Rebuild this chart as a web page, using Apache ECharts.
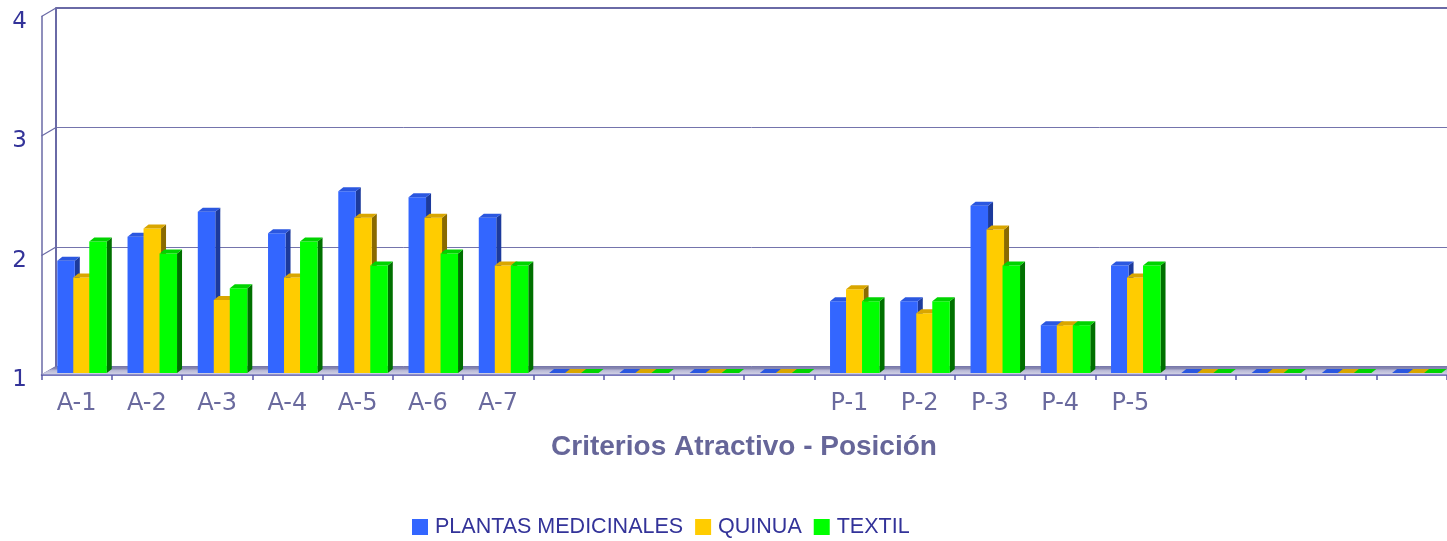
<!DOCTYPE html>
<html>
<head>
<meta charset="utf-8">
<script src="https://cdn.jsdelivr.net/npm/echarts@6/dist/echarts.min.js"></script>
<style>html,body{margin:0;padding:0;background:#fff}#c{width:1447px;height:541px}</style>
</head>
<body>
<div id="c"></div>
<script>
const categories = ['A-1','A-2','A-3','A-4','A-5','A-6','A-7','','','','','P-1','P-2','P-3','P-4','P-5','','','',''];
const plantas = [1.94,2.14,2.35,2.17,2.52,2.47,2.3,1,1,1,1,1.6,1.6,2.4,1.4,1.9,1,1,1,1];
const quinua  = [1.8,2.21,1.61,1.8,2.3,2.3,1.9,1,1,1,1,1.7,1.5,2.2,1.4,1.8,1,1,1,1];
const textil  = [2.1,2.0,1.71,2.1,1.9,2.0,1.9,1,1,1,1,1.6,1.6,1.9,1.4,1.9,1,1,1,1];
const yTicks = [1,2,3,4];
const seriesNames = ['PLANTAS MEDICINALES','QUINUA','TEXTIL'];

const DX = 14.5, DY = -8.5;   // depth of the walls
const BDX = 5, BDY = -4;      // depth of each bar
const palettes = [
  {front:'#3366ff', top:'#2b57e0', side:'#1c3a9c'},
  {front:'#ffcc00', top:'#d9a600', side:'#8a6a00'},
  {front:'#00ff00', top:'#00d400', side:'#007000'}
];

function barRenderer(idx){
  const pal = palettes[idx];
  return function(params, api){
    const x = api.value(0), v = api.value(1);
    const top = api.coord([x, v]);
    const base = api.coord([x, 1]);
    const cw = api.size([1, 0])[0];
    const cx = top[0] + cw * 0.077 + (idx - 1) * 16;
    const w = 17.5;
    const x0 = cx - w / 2, x1 = cx + w / 2;
    const yT = top[1] - 2, yB = base[1] - 2;
    const children = [];
    if (yB - yT > 0.5) {
      children.push({type:'polygon', shape:{points:[[x1,yT],[x1+BDX,yT+BDY],[x1+BDX,yB+BDY],[x1,yB]]}, style:{fill:pal.side}});
      children.push({type:'rect', shape:{x:x0, y:yT, width:w, height:yB-yT}, style:{fill:pal.front}});
    }
    children.push({type:'polygon', shape:{points:[[x0,yT],[x1,yT],[x1+BDX,yT+BDY],[x0+BDX,yT+BDY]]}, style:{fill:pal.top}});
    return {type:'group', children};
  };
}

const chart = echarts.init(document.getElementById('c'), null, {renderer:'canvas'});
const option = {
  backgroundColor:'#ffffff',
  animation:false,
  grid:[
    {left:41.5, right:0.5, top:16.5, bottom:166, containLabel:false},
    {left:56, width:1420, top:8, bottom:174.5, containLabel:false}
  ],
  legend:{
    data:seriesNames,
    left:412, top:516, padding:0,
    icon:'rect', itemWidth:16, itemHeight:16, itemGap:12,
    textStyle:{fontFamily:'Liberation Sans', fontSize:21.5, color:'#333399', padding:[0,0,0,2]}
  },
  xAxis:[
    {type:'category', gridIndex:0, data:categories,
     axisLine:{show:true, lineStyle:{color:'#4d4da6', width:1.5}},
     axisTick:{show:true, length:5, interval:0, lineStyle:{color:'#5a5aa8', width:1.5}},
     axisLabel:{interval:0, margin:17, fontFamily:'DejaVu Sans', fontSize:24, color:'#6a6a9e'},
     name:'Criterios Atractivo - Posición', nameLocation:'middle', nameGap:58,
     nameTextStyle:{fontFamily:'Liberation Sans', fontWeight:'bold', fontSize:28, color:'#666699'}},
    {type:'category', gridIndex:1, data:categories, show:false}
  ],
  yAxis:[
    {type:'value', gridIndex:0, min:1, max:4, interval:1,
     axisLine:{show:true, lineStyle:{color:'#6a6aa6', width:1.5}},
     axisTick:{show:false}, splitLine:{show:false},
     axisLabel:{margin:14.5, fontFamily:'DejaVu Sans', fontSize:23, color:'#333399', verticalAlign:'top', lineHeight:11}},
    {type:'value', gridIndex:1, min:1, max:4, interval:1,
     axisLine:{show:true, lineStyle:{color:'#6a6aa6', width:2}},
     axisTick:{show:false}, axisLabel:{show:false},
     splitLine:{show:true, lineStyle:{color:'#7474ac', width:1}}}
  ],
  series:[
    {type:'custom', name:'wallTop', xAxisIndex:1, yAxisIndex:1, silent:true, z:1,
     data:[[0,4]], encode:{x:0,y:1},
     renderItem:function(params, api){
       const p = api.coord([0, 4]);
       const cw = api.size([1,0])[0];
       return {type:'line', shape:{x1:p[0]-cw/2, y1:p[1], x2:p[0]+cw*20, y2:p[1]}, style:{stroke:'#6a6aa6', lineWidth:2}};
     }},
    {type:'custom', name:'wallDiag', xAxisIndex:0, yAxisIndex:0, silent:true, z:1,
     data:yTicks.map(v => [0, v]), encode:{x:0,y:1},
     renderItem:function(params, api){
       const p = api.coord([0, api.value(1)]);
       const cw = api.size([1,0])[0];
       const l = p[0] - cw/2;
       return {type:'line', shape:{x1:l, y1:p[1], x2:l+DX, y2:p[1]+DY}, style:{stroke:'#6a6aa6', lineWidth:1.2}};
     }},
    {type:'custom', name:'floor', xAxisIndex:0, yAxisIndex:0, silent:true, z:1,
     data:[[0,1]], encode:{x:0,y:1},
     renderItem:function(params, api){
       const p = api.coord([0, 1]);
       const cw = api.size([1,0])[0];
       const l = p[0] - cw/2, r = p[0] - cw/2 + cw*categories.length;
       return {type:'polygon', shape:{points:[[l,p[1]-0.7],[r+DX,p[1]-0.7],[r+DX,p[1]+DY],[l+DX,p[1]+DY]]},
         style:{fill:new echarts.graphic.LinearGradient(0,0,0,1,[
           {offset:0,color:'#7c7caa'},{offset:0.35,color:'#8c8cb4'},{offset:0.42,color:'#b4b4d2'},{offset:1,color:'#d2d2e6'}])}};
     }},
    {type:'custom', name:seriesNames[0], xAxisIndex:0, yAxisIndex:0, z:3,
     itemStyle:{color:palettes[0].front}, data:plantas.map((v,i)=>[i,v]), encode:{x:0,y:1}, renderItem:barRenderer(0)},
    {type:'custom', name:seriesNames[1], xAxisIndex:0, yAxisIndex:0, z:3,
     itemStyle:{color:palettes[1].front}, data:quinua.map((v,i)=>[i,v]), encode:{x:0,y:1}, renderItem:barRenderer(1)},
    {type:'custom', name:seriesNames[2], xAxisIndex:0, yAxisIndex:0, z:3,
     itemStyle:{color:palettes[2].front}, data:textil.map((v,i)=>[i,v]), encode:{x:0,y:1}, renderItem:barRenderer(2)}
  ]
};
chart.setOption(option);
</script>
</body>
</html>
